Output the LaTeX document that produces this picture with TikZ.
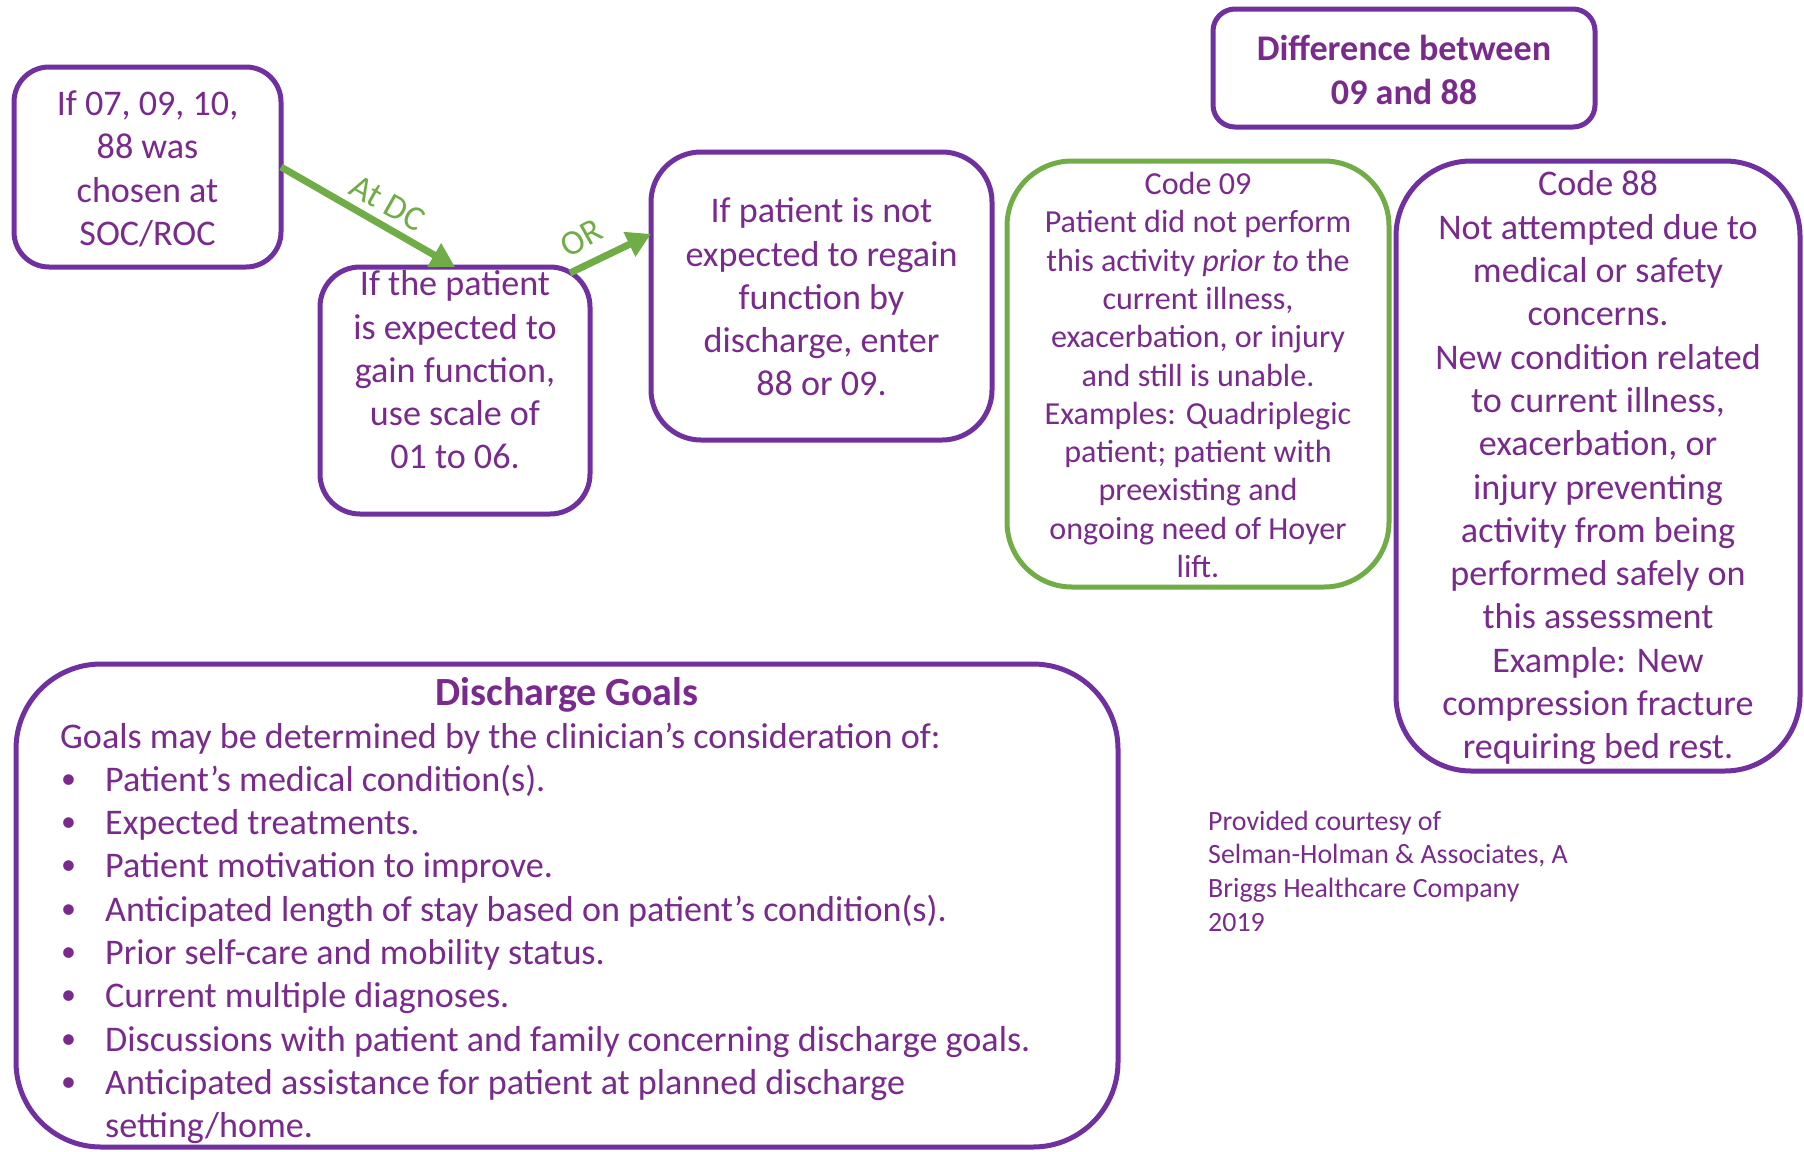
\documentclass[tikz,border=0pt]{standalone}
\usepackage{fontspec}
\setmainfont{Carlito}
\usetikzlibrary{arrows.meta,calc}
\definecolor{bpurple}{HTML}{7030A0}
\definecolor{tpurple}{HTML}{7A2A8C}
\definecolor{bgreen}{HTML}{70AD47}
\tikzset{
  box/.style={draw=bpurple, line width=5pt, fill=white, outer sep=0pt, inner sep=0pt},
  gbox/.style={draw=bgreen, line width=5pt, fill=white, outer sep=0pt, inner sep=0pt},
  txt/.style={text=tpurple, align=center, inner sep=0pt, font=\fontsize{36.1}{43.3}\selectfont},
  smalltxt/.style={text=tpurple, align=center, inner sep=0pt, font=\fontsize{32.1}{38.3}\selectfont},
  ltxt/.style={text=tpurple, inner sep=0pt, anchor=base west, font=\fontsize{36.1}{43.3}\selectfont},
  ctxt/.style={text=tpurple, inner sep=0pt, anchor=base west, font=\fontsize{27.9}{33.7}\selectfont},
  garrow/.style={draw=bgreen, line width=7pt, -{Triangle[length=24pt,width=26pt]}},
  glabel/.style={text=bgreen, inner sep=0pt, font=\fontsize{35}{40}\selectfont}
}
\begin{document}
\begin{tikzpicture}[x=1pt,y=-1pt]
\useasboundingbox (0,0) rectangle (1804,1151);
% boxes
\node[box, rounded corners=35pt, minimum width=267pt, minimum height=200pt] (b1) at (147.5,167) {};
\node[box, rounded corners=40pt, minimum width=270pt, minimum height=247pt] (b2) at (455,390.5) {};
\node[box, rounded corners=50pt, minimum width=341pt, minimum height=288pt] (b3) at (821.5,296) {};
\node[box, rounded corners=22pt, minimum width=382pt, minimum height=118pt] (bd) at (1404,68) {};
\node[gbox, rounded corners=65pt, minimum width=382pt, minimum height=426pt] (b09) at (1198,374) {};
\node[box, rounded corners=75pt, minimum width=404pt, minimum height=610pt] (b88) at (1598,466) {};
\node[box, rounded corners=85pt, minimum width=1102pt, minimum height=483pt] (bg) at (567,905.5) {};
% texts
\node[txt] (t1) at (147.5,169) {If 07, 09, 10,\\88 was\\chosen at\\SOC/ROC};
\node[txt] (t2) at (455,370) {If the patient\\is expected to\\gain function,\\use scale of\\01 to 06.};
\node[txt] (t3) at (821.5,297) {If patient is not\\expected to regain\\function by\\discharge, enter\\88 or 09.};
\node[txt, font=\bfseries\fontsize{36.1}{43.3}\selectfont] (td) at (1404,70) {Difference between\\09 and 88};
\node[smalltxt] (t09) at (1198,375) {Code 09\\Patient did not perform\\this activity \textit{prior to} the\\current illness,\\exacerbation, or injury\\and still is unable.\\Examples: Quadriplegic\\patient; patient with\\preexisting and\\ongoing need of Hoyer\\lift.};
\node[txt] (t88) at (1598,468) {Code 88\\Not attempted due to\\medical or safety\\concerns.\\New condition related\\to current illness,\\exacerbation, or\\injury preventing\\activity from being\\performed safely on\\this assessment\\Example: New\\compression fracture\\requiring bed rest.};
% arrows
\coordinate (orstart) at ($(b2.north east)+(-20,6)$);
\draw[garrow] (b1.east) -- (b2.north);
\draw[garrow] (orstart) -- (b3.160);
\node[glabel, rotate=-29.4] (lat) at (388,203) {At DC};
\node[glabel, rotate=29] (lor) at (581,238) {OR};
% discharge goals
\node[ltxt, anchor=base, font=\bfseries\fontsize{40}{46}\selectfont] (dgt) at (567,705) {Discharge Goals};
\node[ltxt] (dg0) at (60,748) {Goals may be determined by the clinician’s consideration of:};
\foreach \t [count=\i] in {{Patient’s medical condition(s).},{Expected treatments.},{Patient motivation to improve.},{Anticipated length of stay based on patient’s condition(s).},{Prior self-care and mobility status.},{Current multiple diagnoses.},{Discussions with patient and family concerning discharge goals.},{Anticipated assistance for patient at planned discharge}}{
  \node[ltxt, font=\fontsize{30}{36}\selectfont] (dgb\i) at (61,745+43.3*\i) {•};
  \node[ltxt] (dgi\i) at (105,748+43.3*\i) {\t};
}
\node[ltxt] (dgl) at (105,748+43.3*9) {setting/home.};
% courtesy
\node[ctxt] (c1) at (1208,830) {Provided courtesy of};
\node[ctxt] (c2) at (1208,863.7) {Selman-Holman \& Associates, A};
\node[ctxt] (c3) at (1208,897.4) {Briggs Healthcare Company};
\node[ctxt] (c4) at (1208,931.1) {2019};
\end{tikzpicture}
\end{document}
